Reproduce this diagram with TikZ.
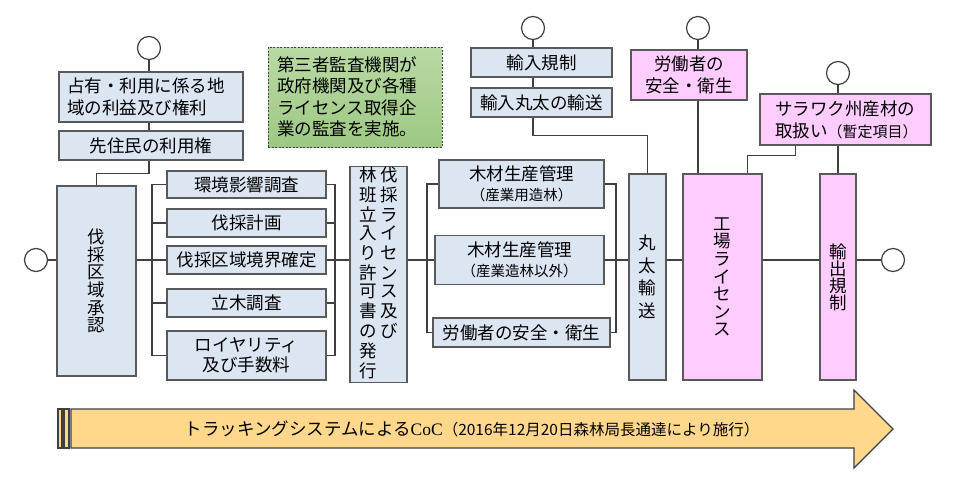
\documentclass[tikz,border=0pt]{standalone}
\usepackage{fontspec}
\setmainfont{Noto Sans CJK JP}
\newfontfamily\cocfont{Liberation Serif}
\usepackage{xcolor}
\usepackage{tikz}
\usetikzlibrary{calc}
\usetikzlibrary{positioning}
\definecolor{boxblue}{HTML}{DCE6F2}
\definecolor{boxpink}{HTML}{FFCCFF}
\definecolor{edgegray}{HTML}{595959}
\definecolor{wiregray}{HTML}{404040}
\definecolor{greentop}{HTML}{B9DAA4}
\definecolor{greenbot}{HTML}{9DC883}
\definecolor{cocorange}{HTML}{FFD88C}
\tikzstyle{box} = [draw=edgegray, fill=boxblue, line width=1.2pt, inner sep=0pt, align=center, font=\fontsize{17.5}{21}\selectfont]
\tikzstyle{pinkbox} = [box, fill=boxpink]
\tikzstyle{tate} = [box, font=\fontsize{17.5}{17.6}\selectfont]
\tikzstyle{endpt} = [circle, draw=wiregray, fill=white, line width=1.2pt, minimum size=23pt, inner sep=0pt]
\tikzstyle{wire} = [-, draw=wiregray, line width=1.2pt]

\begin{document}
\begin{tikzpicture}[x=1pt, y=-1pt]
\useasboundingbox (0, 0) rectangle (960, 477);
\fill [white] (0, 0) rectangle (960, 477);

\node [endpt] (cL) at (36, 260) {};
\node [endpt] (cTa) at (149, 48) {};
\node [endpt] (cTb) at (533, 28) {};
\node [endpt] (cTc) at (698, 28) {};
\node [endpt] (cTd) at (838, 73) {};
\node [endpt] (cR) at (893, 260) {};

\node [box, minimum width=184pt, minimum height=50pt, text width=168pt, align=left, font=\fontsize{17.5}{22}\selectfont] (occ) at (151, 97) {占有・利用に係る地\\域の利益及び権利};
\node [box, minimum width=184pt, minimum height=29pt] (res) at (151, 145.5) {先住民の利用権};
\node [tate, minimum width=79pt, minimum height=190pt] (appr) at (96.5, 281) {伐\\採\\区\\域\\承\\認};

\node [box, minimum width=159pt, minimum height=27pt] (env) at (246.5, 184.5) {環境影響調査};
\node [box, minimum width=159pt, minimum height=28pt] (plan) at (246.5, 223) {伐採計画};
\node [box, minimum width=159pt, minimum height=28pt] (bound) at (246.5, 260) {伐採区域境界確定};
\node [box, minimum width=159pt, minimum height=28pt] (tree) at (246.5, 303) {立木調査};
\node [box, minimum width=159pt, minimum height=49pt, font=\fontsize{17.5}{19.5}\selectfont] (roy) at (246.5, 355.5) {ロイヤリティ\\及び手数料};

\node [tate, minimum width=57pt, minimum height=203pt] (lic) at (378.5, 274.5) {\begin{tabular}{@{}c@{\hspace{3.5pt}}c@{}}
林 & 伐 \\ 班 & 採 \\ 立 & ラ \\ 入 & イ \\ り & セ \\ 許 & ン \\ 可 & ス \\ 書 & 及 \\ の & び \\ 発 & \\ 行 &
\end{tabular}};

\node [box, minimum width=165pt, minimum height=48pt, font=\fontsize{17.5}{20}\selectfont] (prodA) at (521.5, 184) {木材生産管理\\{\fontsize{14.5}{20}\selectfont （産業用造林）}};
\node [box, minimum width=169pt, minimum height=49pt, font=\fontsize{17.5}{20}\selectfont] (prodB) at (519.5, 260) {木材生産管理\\{\fontsize{14.5}{20}\selectfont （産業造林以外）}};
\node [box, minimum width=177pt, minimum height=29pt] (safe) at (521.5, 332.5) {労働者の安全・衛生};
\node [tate, minimum width=37pt, minimum height=206pt, font=\fontsize{17.5}{22.5}\selectfont] (log) at (647.5, 277) {丸\\太\\輸\\送};

\node [box, minimum width=141pt, minimum height=29pt] (imp) at (541.5, 62.5) {輸入規制};
\node [box, minimum width=141pt, minimum height=29pt] (impl) at (541.5, 102.5) {輸入丸太の輸送};

\node [pinkbox, minimum width=116pt, minimum height=50pt, font=\fontsize{17.5}{22}\selectfont] (safeP) at (689, 75) {労働者の\\安全・衛生};
\node [tate, fill=boxpink, minimum width=79pt, minimum height=206pt] (fac) at (722.5, 277) {工\\場\\ラ\\イ\\セ\\ン\\ス};
\node [pinkbox, minimum width=171pt, minimum height=51pt, text width=141pt, align=left, font=\fontsize{17.5}{22}\selectfont] (sar) at (845.5, 119.5) {サラワク州産材の\\取扱い{\fontsize{15}{22}\selectfont （暫定項目）}};
\node [tate, fill=boxpink, minimum width=36pt, minimum height=206pt, font=\fontsize{17.5}{17}\selectfont] (exp) at (838, 277) {輸\\出\\規\\制};

\node [draw=wiregray, dash pattern=on 2pt off 1.5pt, line width=1pt, top color=greentop, bottom color=greenbot, minimum width=174pt, minimum height=100pt, text width=156pt, align=left, inner sep=0pt, font=\fontsize{17.5}{21.5}\selectfont] (audit) at (355, 97) {第三者監査機関が\\政府機関及び各種\\ライセンス取得企\\業の監査を実施。};

\coordinate (b0) at (152, 260);
\coordinate (b1) at (335, 260);
\coordinate (b2) at (427, 260);
\coordinate (b3) at (616, 260);

\draw [wire] (cL) -- (appr.west |- cL);
\draw [wire] (appr.east |- cL) -- (bound.west);
\draw [wire] (env.west) -| (b0) |- (roy.west);
\draw [wire] (plan.west) -- (plan.west -| b0);
\draw [wire] (tree.west) -- (tree.west -| b0);
\draw [wire] (env.east) -| (b1) |- (roy.east);
\draw [wire] (plan.east) -- (plan.east -| b1);
\draw [wire] (tree.east) -- (tree.east -| b1);
\draw [wire] (bound.east) -- (lic.west |- bound);
\draw [wire] (lic.east |- b2) -- (prodB.west);
\draw [wire] (prodA.west) -| (b2) |- (safe.west);
\draw [wire] (prodA.east) -| (b3) |- (safe.east);
\draw [wire] (prodB.east) -- (log.west |- prodB);
\draw [wire] (log.east |- b3) -- (fac.west |- b3);
\draw [wire] (fac.east |- b3) -- (exp.west |- b3);
\draw [wire] (exp.east |- b3) -- (cR);

\draw [wire] (cTa) -- (occ.north -| cTa);
\draw [wire] (occ.south -| cTa) -- (res.north -| cTa);
\draw [wire] (res.south -| cTa) -- ++(0, 13) -| (appr.north);
\draw [wire] (cTb) -- (imp.north -| cTb);
\draw [wire] (imp.south -| cTb) -- (impl.north -| cTb);
\draw [wire] (impl.south -| cTb) -- ++(0, 18) -| (log.north);
\draw [wire] (cTc) -- (safeP.north -| cTc);
\draw [wire] (safeP.south -| cTc) -- (fac.north -| cTc);
\draw [wire] ($(sar.south)+(-50, 0)$) -- ++(0, 10) -| ($(fac.north)+(25, 0)$);
\draw [wire] (cTd) -- (sar.north -| cTd);
\draw [wire] (sar.south -| cTd) -- (exp.north);

\draw [draw=wiregray, line width=1.2pt, fill=cocorange] (71, 409) -- (854, 409) -- (854, 390) -- (893, 429) -- (854, 468) -- (854, 448) -- (71, 448) -- cycle;
\draw [draw=wiregray, line width=1.2pt, fill=cocorange] (58, 409) rectangle (62, 448);
\draw [draw=wiregray, line width=1.2pt, fill=cocorange] (64, 409) rectangle (69, 448);
\node [font=\fontsize{17.5}{20}\selectfont] (track) at (472, 429) {トラッキングシステムによる{\cocfont CoC}{\fontsize{15.5}{18}\selectfont （2016年12月20日森林局長通達により施行）}};
\end{tikzpicture}
\end{document}
